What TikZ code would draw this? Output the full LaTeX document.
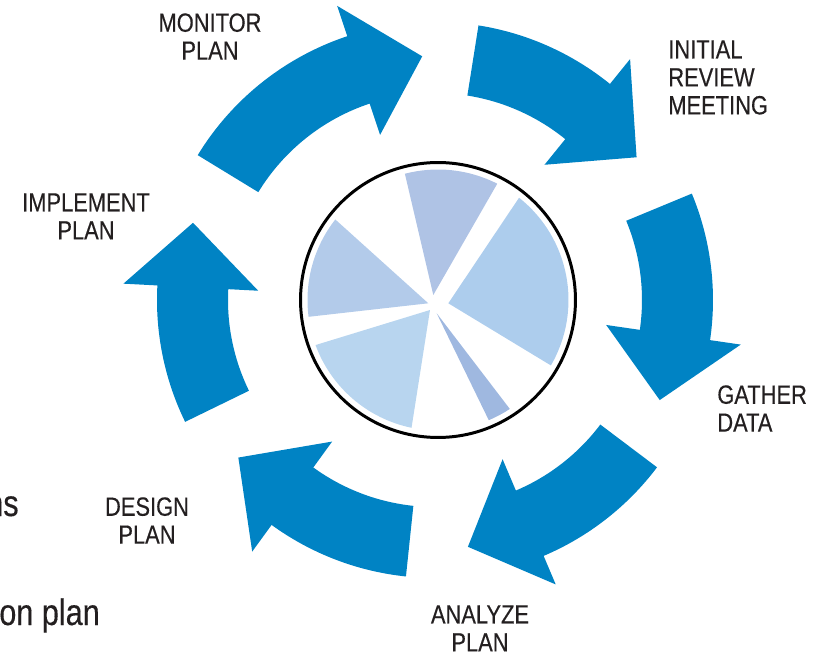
\documentclass[tikz,border=0pt]{standalone}
\usepackage{fontspec}
\setmainfont{Liberation Sans}[FakeStretch=0.83, FakeBold=0.3]

\definecolor{flowblue}{RGB}{0,131,196}
\definecolor{txtgray}{RGB}{35,31,32}
\definecolor{sliceA}{RGB}{175,195,229}
\definecolor{sliceB}{RGB}{173,205,237}
\definecolor{sliceC}{RGB}{179,203,234}
\definecolor{sliceD}{RGB}{184,213,239}
\definecolor{sliceE}{RGB}{159,184,224}

\begin{document}
\begin{tikzpicture}[x=0.02cm, y=0.02cm,
    flow/.style = {fill=flowblue},
    lbl/.style = {inner sep=0pt, text=txtgray, font=\fontsize{15}{15.9}\selectfont},
    big/.style = {inner sep=0pt, text=txtgray, font=\fontsize{21}{24}\selectfont}]
    \useasboundingbox (-435,-355) rectangle (383,300);

    % the six steps of the cycle, clockwise from the top
    \fill[flow] (148.6:278) arc[start angle=148.6, end angle=108.4, radius=278] -- (108.4:310) -- (93:244) -- (108.4:174) -- (108.4:207) arc[start angle=108.4, end angle=148.6, radius=207] -- cycle;
    \fill[flow] (81:278) arc[start angle=81, end angle=51, radius=278] -- (51:310) -- (35.3:247) -- (51:174) -- (51:207) arc[start angle=51, end angle=81, radius=207] -- cycle;
    \fill[flow] (22.5:278) arc[start angle=22.5, end angle=-8.3, radius=278] -- (-8.3:309) -- (-24:246) -- (-8.3:173) -- (-8.3:207) arc[start angle=-8.3, end angle=22.5, radius=207] -- cycle;
    \fill[flow] (-37:278) arc[start angle=-37, end angle=-67, radius=278] -- (-67:309) -- (-82.4:249) -- (-67:173) -- (-67:207) arc[start angle=-67, end angle=-37, radius=207] -- cycle;
    \fill[flow] (-96:278) arc[start angle=-96, end angle=-126, radius=278] -- (-126:311) -- (-141.3:252) -- (-126:175) -- (-126:207) arc[start angle=-126, end angle=-96, radius=207] -- cycle;
    \fill[flow] (206:278) arc[start angle=206, end angle=177, radius=278] -- (177:312) -- (162.3:254) -- (177:177) -- (177:207) arc[start angle=177, end angle=206, radius=207] -- cycle;

    % pie in the middle
    \node[draw, circle, line width=1.7pt, minimum size=5.5cm, inner sep=0pt] (pie) at (3,0) {};
    \begin{scope}[shift={(pie.center)}]
        \fill[sliceA] (-4.7,5) -- (63:130.5) arc[start angle=63, end angle=104.7, radius=130.5] -- cycle;
        \fill[sliceB] (10.3,-3.3) -- (-30.1:130.5) arc[start angle=-30.1, end angle=51.6, radius=130.5] -- cycle;
        \fill[sliceC] (-9.7,-3.3) -- (141.9:130.5) arc[start angle=141.9, end angle=187.4, radius=130.5] -- cycle;
        \fill[sliceD] (-8,-10) -- (200.2:130.5) arc[start angle=200.2, end angle=258.3, radius=130.5] -- cycle;
        \fill[sliceE] (-1.3,-13.3) -- (-67.1:130.5) arc[start angle=-67.1, end angle=-56.6, radius=130.5] -- cycle;
    \end{scope}

    \node[lbl, anchor=north, align=center] (monitor) at (-225,287) {MONITOR\\PLAN};
    \node[lbl, anchor=north west, align=left] (review) at (233,260) {INITIAL\\REVIEW\\MEETING};
    \node[lbl, anchor=north west, align=left] (gather) at (282,-85) {GATHER\\DATA};
    \node[lbl, anchor=north, align=center] (analyze) at (45,-305) {ANALYZE\\PLAN};
    \node[lbl, anchor=north, align=center] (design) at (-288,-197) {DESIGN\\PLAN};
    \node[lbl, anchor=north, align=center] (implement) at (-349,107) {IMPLEMENT\\PLAN};

    \node[big, anchor=base east] (ns) at (-416,-216) {ns};
    \node[big, anchor=base west] (onplan) at (-436,-325) {on plan};
\end{tikzpicture}
\end{document}
